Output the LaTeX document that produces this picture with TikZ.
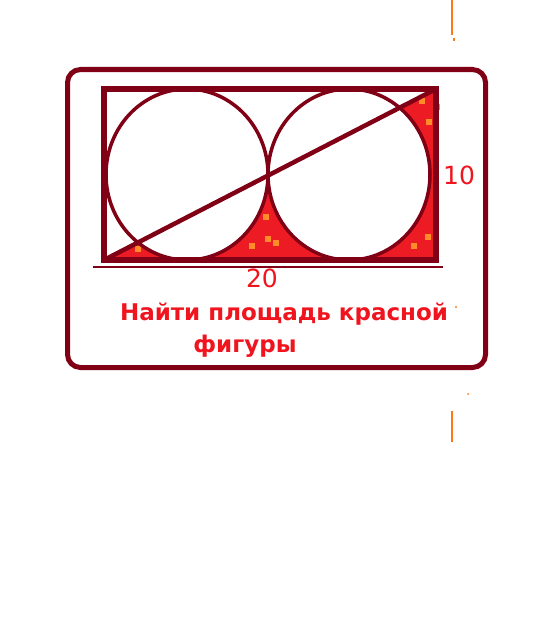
\documentclass[tikz,border=0pt]{standalone}
\usepackage{fontspec}
\setmainfont{DejaVu Sans}
\definecolor{frame}{RGB}{128,0,21}
\definecolor{paint}{RGB}{237,28,36}
\definecolor{speck}{RGB}{255,140,40}
\definecolor{label}{RGB}{240,20,30}
\definecolor{stray}{RGB}{255,120,20}

\begin{document}
\begin{tikzpicture}[x=1pt,y=-1pt,
    edge/.style={draw=frame,line width=5.5pt},
    ring/.style={draw=frame,line width=3.5pt},
    numlabel/.style={text=label,font=\fontsize{25}{25}\selectfont,inner sep=0pt},
    task/.style={text=label,font=\fontsize{23}{23}\selectfont\bfseries,inner sep=0pt}]
    \useasboundingbox (0,0) rectangle (544,618);

    \coordinate (BL) at (104,260);
    \coordinate (BR) at (436,260);
    \coordinate (TR) at (436,89);
    \coordinate (TL) at (104,89);
    \coordinate (CA) at (187,174.5);
    \coordinate (CB) at (349,174.5);

    \begin{scope}
      \clip (BL) -- (BR) -- (TR) -- cycle;
      \fill[paint,even odd rule] (BL) rectangle (TR)
        (CA) ellipse [x radius=81,y radius=85.5]
        (CB) ellipse [x radius=81,y radius=85.5];
    \end{scope}
    \foreach \x/\y in {138/249,266/217,268/239,276/243,252/246,422/101,437/107,429/122,428/237,414/246}
      \fill[speck] (\x,\y) +(-3,-3) rectangle +(3,3);

    \draw[ring] (CA) ellipse [x radius=81,y radius=85.5];
    \draw[ring] (CB) ellipse [x radius=81,y radius=85.5];
    \draw[frame,line width=4.5pt] (BL) -- (TR);
    \draw[edge] (BL) rectangle (TR);

    \draw[draw=frame,line width=5pt,rounded corners=13pt] (67.5,69.5) rectangle (485.5,367.5);

    \coordinate (RuleL) at (93,267);
    \coordinate (RuleR) at (443,267);
    \draw[frame,line width=2pt] (RuleL) -- (RuleR);

    \node[numlabel,anchor=base] (Len) at (262,287) {20};
    \node[numlabel,anchor=base] (Hgt) at (459,184) {10};
    \node[task,anchor=base] (AskA) at (284,320) {Найти площадь красной};
    \node[task,anchor=base] (AskB) at (245,352) {фигуры};

    \draw[stray,line width=1.5pt] (452,0) -- (452,35);
    \draw[stray,line width=1.5pt] (454,38) -- (454,41);
    \draw[stray,line width=1.5pt] (452,411) -- (452,442);
    \fill[stray] (468,394) circle (1pt);
    \fill[stray] (456,307) circle (1.2pt);
  \end{tikzpicture}
\end{document}
